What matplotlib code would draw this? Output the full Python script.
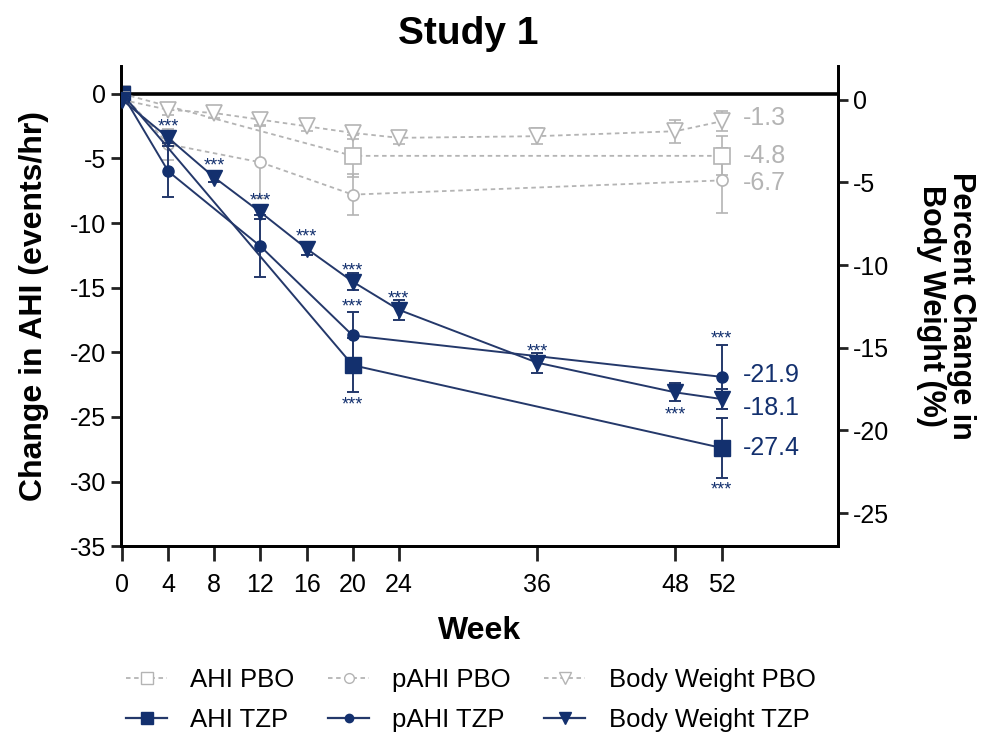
import numpy as np
import matplotlib.pyplot as plt
from matplotlib.lines import Line2D

plt.rcParams['font.family'] = ['Liberation Sans', 'DejaVu Sans']
plt.rcParams['axes.unicode_minus'] = False

# ---- data ----
weeks_ahi = [0, 20, 52]
ahi_pbo = [0, -4.8, -4.8]
ahi_pbo_err = [0, 1.6, 1.5]
ahi_tzp = [0, -21.0, -27.4]
ahi_tzp_err = [0, 2.1, 2.3]

weeks_pahi = [0, 4, 12, 20, 52]
pahi_pbo = [0, -3.9, -5.3, -7.8, -6.7]
pahi_pbo_err = [0, 1.2, 2.8, 1.6, 2.5]
pahi_tzp = [0, -6.0, -11.8, -18.7, -21.9]
pahi_tzp_err = [0, 2.0, 2.4, 1.8, 2.5]

weeks_bw = [0, 4, 8, 12, 16, 20, 24, 36, 48, 52]
bw_pbo = [0, -0.6, -0.8, -1.2, -1.6, -2.0, -2.3, -2.2, -1.9, -1.3]
bw_pbo_err = [0, 0.3, 0.3, 0.3, 0.3, 0.4, 0.4, 0.5, 0.7, 0.6]
bw_tzp = [0, -2.3, -4.7, -6.8, -9.0, -11.0, -12.7, -15.9, -17.7, -18.1]
bw_tzp_err = [0, 0.3, 0.3, 0.4, 0.4, 0.5, 0.6, 0.6, 0.55, 0.6]

week_ticks = [0, 4, 8, 12, 16, 20, 24, 36, 48, 52]

navy = '#13306e'
line_navy = '#24386a'
grey = '#b4b4b4'

fig = plt.figure(figsize=(9.87, 7.39), dpi=100)
ax = fig.add_axes([0.1226, 0.261, 0.7264, 0.65])
ax2 = ax.twinx()

ax.axhline(0, color='black', lw=2.6, zorder=1)

pbo_kw = dict(color=grey, ls=(0, (2.5, 2)), lw=1.3, mfc='white', mec=grey,
              mew=1.2, capsize=4, elinewidth=1.2, capthick=1.2, ecolor=grey)
tzp_kw = dict(color=line_navy, lw=1.4, mfc=navy, mec=navy,
              capsize=4, elinewidth=1.4, capthick=1.4, ecolor=line_navy)

# placebo
ax.errorbar(weeks_ahi, ahi_pbo, yerr=ahi_pbo_err, marker='s', ms=11, zorder=2, **pbo_kw)
ax.errorbar(weeks_pahi, pahi_pbo, yerr=pahi_pbo_err, marker='o', ms=8, zorder=2, **pbo_kw)
ax2.errorbar(weeks_bw, bw_pbo, yerr=bw_pbo_err, marker='v', ms=11, zorder=2, **pbo_kw)

# tirzepatide
ax.errorbar(weeks_ahi, ahi_tzp, yerr=ahi_tzp_err, marker='s', ms=11, zorder=3, **tzp_kw)
ax.errorbar(weeks_pahi, pahi_tzp, yerr=pahi_tzp_err, marker='o', ms=8, zorder=3, **tzp_kw)
ax2.errorbar(weeks_bw, bw_tzp, yerr=bw_tzp_err, marker='v', ms=11, zorder=3, **tzp_kw)

# significance stars
def stars(a, x, y, dy):
    a.annotate('***', (x, y), xytext=(0, dy), textcoords='offset points',
               ha='center', va='center', fontsize=13, color=navy)

for w, v, e in zip(weeks_bw, bw_tzp, bw_tzp_err):
    if w == 0 or w == 52:
        continue
    if w == 48:
        stars(ax2, w, v - e, -10)
    else:
        stars(ax2, w, v, 8)
stars(ax, 20, pahi_tzp[3] + pahi_tzp_err[3], 4)
stars(ax, 52, pahi_tzp[4] + pahi_tzp_err[4], 4)
stars(ax, 20, ahi_tzp[1] - ahi_tzp_err[1], -9)
stars(ax, 52, ahi_tzp[2] - ahi_tzp_err[2], -9)

# end labels
def end_label(a, y, txt, col, dy=0):
    a.annotate(txt, (52, y), xytext=(15, dy), textcoords='offset points',
               ha='left', va='center', fontsize=18, color=col)

end_label(ax2, bw_pbo[-1], '-1.3', grey, 2.5)
end_label(ax, ahi_pbo[-1], '-4.8', grey)
end_label(ax, pahi_pbo[-1], '-6.7', grey, -2)
end_label(ax, pahi_tzp[-1], '-21.9', navy, 1.5)
end_label(ax2, bw_tzp[-1], '-18.1', navy, -6.5)
end_label(ax, ahi_tzp[-1], '-27.4', navy, 0)

# axes
ax.set_xlim(-0.1, 62.1)
ax.set_ylim(-35, 2.17)
ax2.set_ylim(-27.0, 2.06)
ax.set_xticks(week_ticks)
ax.set_yticks(np.arange(-35, 1, 5))
ax2.set_yticks(np.arange(-25, 1, 5))

for a in (ax, ax2):
    for s in a.spines.values():
        s.set_linewidth(2)
    a.spines['top'].set_visible(False)
    a.tick_params(width=2, length=7, labelsize=18, color='#222222')
ax.tick_params(axis='x', length=11, pad=8)

ax.set_xlabel('Week', fontsize=23, fontweight='bold', labelpad=14)
ax.set_ylabel('Change in AHI (events/hr)', fontsize=23, fontweight='bold', labelpad=15)
ax2.set_ylabel('Percent Change in\nBody Weight (%)', fontsize=22, fontweight='bold',
               rotation=270, labelpad=63, linespacing=1.0)
ax.set_title('Study 1', fontsize=28, fontweight='bold', pad=16, x=0.485)

# legend
handles = [
    Line2D([], [], color=grey, ls=(0, (2.5, 2)), lw=1.3, marker='s', ms=9, mfc='white', mec=grey),
    Line2D([], [], color=line_navy, lw=1.6, marker='s', ms=9, mfc=navy, mec=navy),
    Line2D([], [], color=grey, ls=(0, (2.5, 2)), lw=1.3, marker='o', ms=7, mfc='white', mec=grey),
    Line2D([], [], color=line_navy, lw=1.6, marker='o', ms=6, mfc=navy, mec=navy),
    Line2D([], [], color=grey, ls=(0, (2.5, 2)), lw=1.3, marker='v', ms=9, mfc='white', mec=grey),
    Line2D([], [], color=line_navy, lw=1.6, marker='v', ms=9, mfc=navy, mec=navy),
]
labels = ['AHI PBO', 'AHI TZP', 'pAHI PBO', 'pAHI TZP', 'Body Weight PBO', 'Body Weight TZP']
fig.legend(handles, labels, ncol=3, loc='center', bbox_to_anchor=(0.477, 0.053),
           frameon=False, fontsize=18.5, handlelength=1.6, handletextpad=0.9,
           columnspacing=1.3, labelspacing=0.6)

fig.savefig('out.png', dpi=100)
